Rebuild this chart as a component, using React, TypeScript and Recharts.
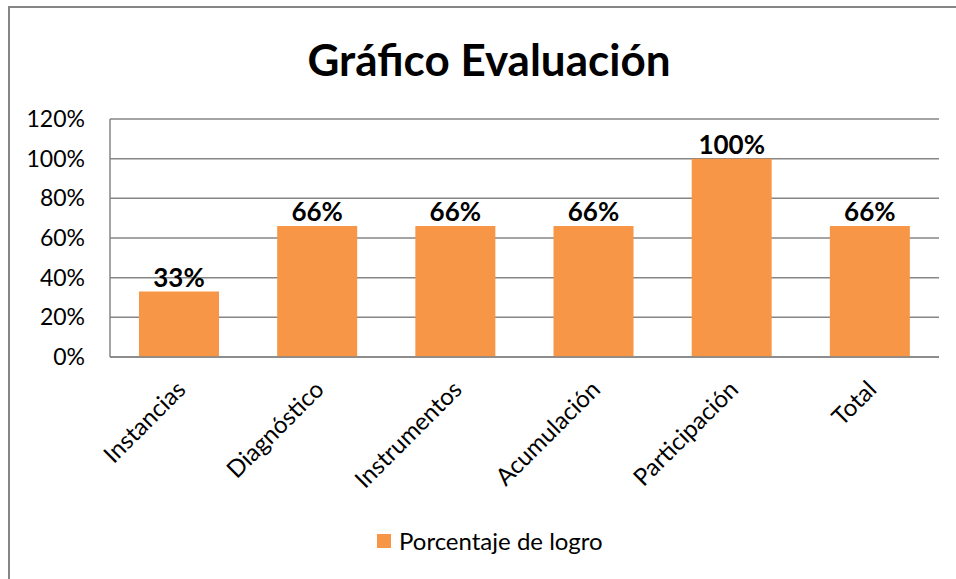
import React from 'react';
import { BarChart, Bar, XAxis, YAxis, CartesianGrid, LabelList } from 'recharts';

const categories = ['Instancias', 'Diagnóstico', 'Instrumentos', 'Acumulación', 'Participación', 'Total'];
const values = [0.33, 0.66, 0.66, 0.66, 1.0, 0.66];
const yTicks = [0, 0.2, 0.4, 0.6, 0.8, 1.0, 1.2];
const seriesName = 'Porcentaje de logro';
const title = 'Gráfico Evaluación';

const data = categories.map((c, i) => ({ name: c, value: values[i] }));
const pct = (v: number) => `${Math.round(v * 100)}%`;

const FONT = 'Lato, "Noto Sans", sans-serif';
const ORANGE = '#F79646';
const GRAY = '#868686';

export default function App() {
  return (
    <div style={{ position: 'fixed', left: 8, top: 6, width: 948, height: 573, overflow: 'hidden', fontFamily: FONT, background: '#fff' }}>
      <div style={{ position: 'absolute', left: 0, top: 0 }}>
        <BarChart width={940} height={571} data={data} margin={{ top: 113, right: 9, left: 42, bottom: 70 }} barCategoryGap="21%">
          <CartesianGrid vertical={false} stroke={GRAY} strokeWidth={1.5} />
          <XAxis
            dataKey="name"
            interval={0}
            angle={-45}
            textAnchor="end"
            height={150}
            tickSize={0}
            tickMargin={22}
            axisLine={{ stroke: GRAY, strokeWidth: 1.5 }}
            tick={{ fill: '#000', fontSize: 24, fontFamily: FONT, dx: -4 }}
          />
          <YAxis
            width={60}
            domain={[0, 1.2]}
            ticks={yTicks}
            tickFormatter={pct}
            tickSize={0}
            tickMargin={25}
            axisLine={{ stroke: GRAY, strokeWidth: 1.5 }}
            tick={{ fill: '#000', fontSize: 23, fontFamily: FONT }}
          />
          <Bar dataKey="value" name={seriesName} fill={ORANGE} isAnimationActive={false}>
            <LabelList dataKey="value" position="top" offset={5} formatter={(v: any) => pct(Number(v))} style={{ fontSize: 26, fontWeight: 700, fill: '#000', fontFamily: FONT }} />
          </Bar>
        </BarChart>
      </div>
      <div style={{ position: 'absolute', left: 0, top: 26, width: 962, textAlign: 'center', fontSize: 44, fontWeight: 700, color: '#000', lineHeight: '54px' }}>
        {title}
      </div>
      <div style={{ position: 'absolute', left: 369, top: 520, display: 'flex', alignItems: 'center', fontSize: 24, color: '#000', lineHeight: '30px' }}>
        <span style={{ display: 'inline-block', width: 14, height: 14, background: ORANGE, marginRight: 8 }} />
        <span>{seriesName}</span>
      </div>
      <div style={{ position: 'absolute', left: 0, top: 0, width: 2, height: 573, background: GRAY, zIndex: 10 }} />
      <div style={{ position: 'absolute', left: 0, top: 0, width: 948, height: 2, background: GRAY, zIndex: 10 }} />
    </div>
  );
}
